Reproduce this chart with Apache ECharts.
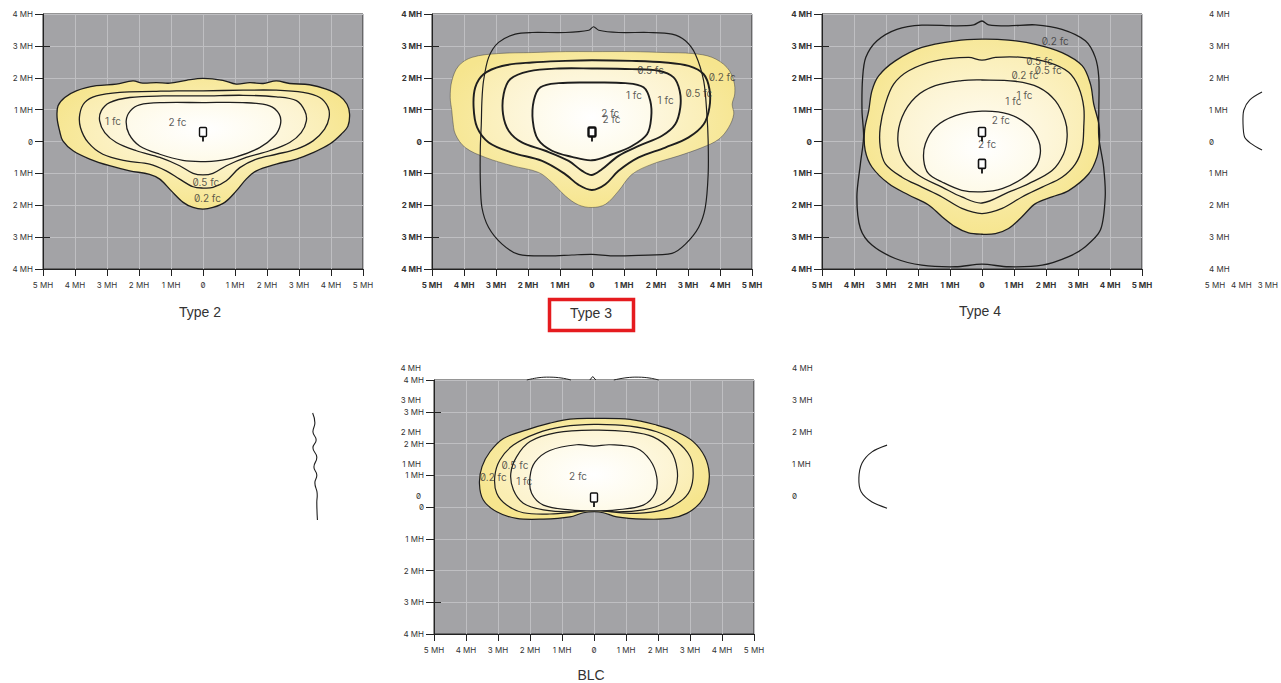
<!DOCTYPE html>
<html><head><meta charset="utf-8">
<script src="https://cdn.jsdelivr.net/npm/echarts@6/dist/echarts.min.js"></script>
<style>
html,body{margin:0;padding:0;background:#fff;}
#main{width:1281px;height:683px;}
#main text{font-feature-settings:"zero" 1 !important;font-variant-numeric:slashed-zero !important;}
</style></head><body><div id="main"></div>
<script>
// ---------- DATA (MH units) ----------
const titles = ['Type 2', 'Type 3', 'Type 4', 'BLC'];

// Type 2
const t2_02 = [[0,1.98],[0.62,1.92],[1.04,1.80],[1.46,1.85],[1.88,1.82],[2.29,1.90],[2.71,1.82],[3.33,1.78],[3.85,1.64],[4.27,1.43],[4.50,1.17],[4.58,0.86],[4.53,0.49],[4.32,0.23],[3.96,-0.08],[3.44,-0.35],[2.92,-0.55],[2.29,-0.71],[1.67,-0.92],[1.35,-1.18],[1.04,-1.55],[0.68,-1.91],[0.31,-2.07],[0,-2.12],[-0.31,-2.07],[-0.62,-1.91],[-0.99,-1.55],[-1.35,-1.18],[-1.67,-1.03],[-2.29,-0.92],[-2.92,-0.76],[-3.54,-0.55],[-4.06,-0.29],[-4.38,0.02],[-4.48,0.33],[-4.56,0.75],[-4.53,1.12],[-4.32,1.38],[-3.96,1.59],[-3.33,1.75],[-2.71,1.80],[-2.19,1.90],[-1.88,1.83],[-1.46,1.85],[-1.04,1.83],[-0.52,1.92]];
const t2_05 = [[0,1.59],[1.25,1.61],[2.29,1.61],[3.13,1.54],[3.65,1.38],[3.91,1.07],[3.94,0.75],[3.80,0.39],[3.44,0.02],[2.92,-0.24],[2.29,-0.40],[1.67,-0.55],[1.15,-0.82],[0.73,-1.23],[0.31,-1.44],[0,-1.46],[-0.31,-1.42],[-0.73,-1.18],[-1.15,-0.92],[-1.67,-0.71],[-2.40,-0.61],[-3.13,-0.40],[-3.59,-0.03],[-3.83,0.44],[-3.85,0.86],[-3.70,1.22],[-3.33,1.43],[-2.60,1.54],[-1.56,1.57],[-0.83,1.59]];
const t2_1 = [[0,1.43],[1.25,1.45],[2.29,1.40],[2.92,1.28],[3.18,0.96],[3.23,0.65],[3.07,0.28],[2.71,-0.03],[2.08,-0.29],[1.35,-0.50],[0.73,-0.76],[0.31,-1.00],[0,-1.05],[-0.31,-1.00],[-0.73,-0.76],[-1.35,-0.50],[-2.08,-0.29],[-2.71,-0.03],[-3.07,0.28],[-3.23,0.65],[-3.18,0.96],[-2.92,1.22],[-2.29,1.38],[-1.25,1.43]];
const t2_2 = [[0,1.22],[1.25,1.22],[2.08,1.12],[2.38,0.86],[2.42,0.54],[2.24,0.18],[1.77,-0.19],[1.04,-0.48],[0.42,-0.61],[0,-0.63],[-0.63,-0.59],[-1.35,-0.40],[-1.98,-0.14],[-2.31,0.23],[-2.40,0.65],[-2.27,0.96],[-1.98,1.15],[-1.25,1.22]];
const t2_labels = [[-2.81,0.65,'1 fc'],[-0.80,0.60,'2 fc'],[0.09,-1.27,'0.5 fc'],[0.14,-1.76,'0.2 fc']];
const t2_icons = [[0,0]];

// Type 3
const t3_02 = [[0,2.82],[1.25,2.82],[2.29,2.79],[3.13,2.76],[3.75,2.64],[4.22,2.32],[4.43,1.90],[4.46,1.49],[4.38,1.17],[4.43,0.86],[4.27,0.44],[3.96,0.07],[3.44,-0.19],[2.71,-0.45],[1.88,-0.71],[1.25,-1.03],[0.83,-1.55],[0.42,-1.97],[0,-2.07],[-0.42,-1.99],[-0.83,-1.71],[-1.25,-1.29],[-1.67,-0.97],[-2.50,-0.76],[-3.33,-0.50],[-3.96,-0.19],[-4.27,0.23],[-4.35,0.65],[-4.38,0.96],[-4.43,1.38],[-4.38,1.90],[-4.17,2.37],[-3.75,2.64],[-2.92,2.76],[-1.88,2.79],[-0.83,2.82]];
const t3_05 = [[0,2.55],[1.25,2.53],[2.29,2.48],[3.02,2.37],[3.49,2.11],[3.67,1.64],[3.67,1.07],[3.49,0.54],[3.02,0.13],[2.29,-0.19],[1.46,-0.50],[0.83,-0.92],[0.42,-1.34],[0,-1.52],[-0.42,-1.36],[-0.83,-1.03],[-1.56,-0.61],[-2.50,-0.35],[-3.23,-0.03],[-3.59,0.44],[-3.70,1.07],[-3.65,1.69],[-3.39,2.11],[-2.81,2.37],[-1.88,2.48],[-0.83,2.53]];
const t3_1 = [[0,2.29],[1.25,2.27],[2.08,2.22],[2.55,2.01],[2.74,1.59],[2.76,1.07],[2.60,0.54],[2.19,0.18],[1.46,-0.14],[0.83,-0.45],[0.31,-0.87],[0,-1.05],[-0.31,-0.92],[-0.73,-0.61],[-1.46,-0.29],[-2.19,-0.03],[-2.60,0.33],[-2.78,0.86],[-2.76,1.49],[-2.55,1.96],[-1.98,2.20],[-1.04,2.29]];
const t3_2 = [[0,1.85],[1.04,1.83],[1.61,1.70],[1.82,1.28],[1.85,0.75],[1.72,0.23],[1.25,-0.14],[0.63,-0.40],[0,-0.59],[-0.63,-0.48],[-1.25,-0.29],[-1.69,0.07],[-1.85,0.65],[-1.82,1.28],[-1.61,1.70],[-1.04,1.83]];
const t3_outline = [[0.05,3.60],[0.21,3.49],[0.83,3.42],[1.77,3.42],[2.50,3.37],[2.92,3.16],[3.23,2.74],[3.49,1.90],[3.59,0.86],[3.63,0.02],[3.63,-1.03],[3.54,-2.07],[3.33,-2.70],[2.92,-3.22],[2.50,-3.51],[1.46,-3.57],[0.63,-3.59],[0,-3.54],[-0.63,-3.56],[-1.35,-3.59],[-2.29,-3.54],[-2.81,-3.22],[-3.23,-2.70],[-3.44,-2.07],[-3.49,-1.23],[-3.49,-0.19],[-3.46,0.54],[-3.44,1.28],[-3.39,1.90],[-3.23,2.64],[-2.92,3.11],[-2.40,3.37],[-1.88,3.42],[-0.83,3.42],[-0.10,3.49]];
const t3_labels = [[1.83,2.25,'0.5 fc'],[4.07,2.03,'0.2 fc'],[1.31,1.46,'1 fc'],[2.30,1.31,'1 fc'],[3.34,1.52,'0.5 fc'],[0.57,0.90,'2 fc'],[0.61,0.72,'2 fc']];
const t3_icons = [[0,0]];

// Type 4
const t4_02 = [[0,3.21],[0.83,3.18],[1.67,3.05],[2.50,2.79],[3.13,2.38],[3.39,1.80],[3.49,1.18],[3.65,0.55],[3.67,0.03],[3.59,-0.49],[3.33,-1.02],[2.71,-1.54],[2.19,-1.74],[1.67,-1.95],[1.25,-2.36],[0.83,-2.73],[0.42,-2.89],[0,-2.91],[-0.42,-2.87],[-0.83,-2.68],[-1.25,-2.36],[-1.67,-1.99],[-2.29,-1.68],[-2.92,-1.32],[-3.44,-0.80],[-3.65,-0.28],[-3.67,0.34],[-3.54,0.97],[-3.44,1.59],[-3.23,2.06],[-2.71,2.53],[-1.88,2.95],[-0.83,3.16]];
const t4_05 = [[0,2.55],[0.42,2.64],[1.25,2.64],[2.08,2.48],[2.71,2.17],[3.02,1.70],[3.18,1.07],[3.18,0.45],[3.13,-0.18],[2.92,-0.70],[2.50,-1.12],[1.88,-1.43],[1.25,-1.74],[0.63,-2.10],[0,-2.26],[-0.63,-2.10],[-1.25,-1.74],[-1.88,-1.43],[-2.50,-1.12],[-3.02,-0.70],[-3.18,-0.18],[-3.18,0.45],[-3.02,1.18],[-2.76,1.80],[-2.29,2.22],[-1.46,2.53],[-0.42,2.64]];
const t4_1 = [[0,1.93],[1.04,1.89],[1.77,1.70],[2.29,1.28],[2.60,0.66],[2.66,0.14],[2.55,-0.39],[2.19,-0.91],[1.46,-1.32],[0.83,-1.59],[0,-1.93],[-0.63,-1.74],[-1.25,-1.43],[-1.98,-1.06],[-2.45,-0.59],[-2.63,0.03],[-2.50,0.76],[-2.08,1.39],[-1.46,1.75],[-0.63,1.91]];
const t4_2 = [[0,0.95],[0.83,0.86],[1.46,0.50],[1.77,0.03],[1.82,-0.39],[1.67,-0.80],[1.25,-1.17],[0.63,-1.48],[0,-1.58],[-0.63,-1.53],[-1.25,-1.27],[-1.67,-1.01],[-1.82,-0.59],[-1.77,-0.07],[-1.46,0.45],[-0.83,0.81]];
const t4_outline = [[0,3.78],[0.21,3.66],[0.83,3.63],[1.67,3.66],[2.50,3.52],[3.23,3.16],[3.54,2.64],[3.65,2.01],[3.65,0.97],[3.65,0.14],[3.80,-0.80],[3.85,-1.74],[3.70,-2.78],[3.23,-3.30],[2.71,-3.61],[1.88,-3.88],[0.83,-3.93],[0,-3.85],[-0.83,-3.93],[-1.88,-3.88],[-2.71,-3.67],[-3.44,-3.25],[-3.80,-2.73],[-3.91,-1.74],[-3.80,-0.70],[-3.70,0.14],[-3.75,0.97],[-3.73,2.01],[-3.63,2.64],[-3.28,3.16],[-2.66,3.52],[-1.88,3.65],[-0.83,3.63],[-0.26,3.66]];
const t4_labels = [[2.29,3.14,'0.2 fc'],[1.80,2.53,'0.5 fc'],[2.07,2.24,'0.5 fc'],[1.34,2.09,'0.2 fc'],[1.33,1.47,'1 fc'],[0.98,1.26,'1 fc'],[0.59,0.66,'2 fc'],[0.16,-0.07,'2 fc']];
const t4_icons = [[0,0],[0,-1]];

// BLC
const blc_02 = [[0,2.79],[1.13,2.76],[1.96,2.58],[2.58,2.37],[3.10,2.06],[3.46,1.59],[3.60,1.06],[3.54,0.53],[3.31,0.12],[2.90,-0.20],[2.38,-0.36],[1.54,-0.38],[0.71,-0.31],[0.29,-0.18],[0,-0.15],[-0.33,-0.18],[-0.75,-0.31],[-1.58,-0.38],[-2.42,-0.36],[-3.04,-0.15],[-3.46,0.22],[-3.58,0.74],[-3.50,1.27],[-3.25,1.74],[-2.83,2.16],[-2.10,2.43],[-1.38,2.64],[-0.75,2.77]];
const blc_05 = [[0,2.60],[1.13,2.55],[1.96,2.37],[2.58,2.06],[3.00,1.59],[3.10,1.06],[3.00,0.53],[2.69,0.17],[2.17,-0.09],[1.33,-0.20],[0.50,-0.15],[0,-0.09],[-0.54,-0.15],[-1.38,-0.22],[-2.21,-0.18],[-2.73,0.06],[-3.04,0.43],[-3.10,0.96],[-2.94,1.48],[-2.52,1.95],[-1.79,2.32],[-0.96,2.53]];
const blc_1 = [[0,2.42],[1.13,2.37],[1.85,2.21],[2.38,1.79],[2.60,1.16],[2.53,0.54],[2.17,0.12],[1.54,-0.09],[0.71,-0.15],[0,-0.09],[-0.75,-0.15],[-1.58,-0.09],[-2.21,0.12],[-2.52,0.54],[-2.60,1.06],[-2.42,1.58],[-2.00,2.06],[-1.17,2.34]];
const blc_2 = [[0,1.92],[0.50,1.96],[1.33,1.85],[1.75,1.48],[1.96,0.95],[1.91,0.43],[1.54,0.06],[0.71,-0.09],[0,-0.12],[-0.75,-0.09],[-1.58,0.06],[-1.95,0.43],[-2.00,0.95],[-1.84,1.42],[-1.38,1.78],[-0.54,1.96]];
const blc_topArcL = [[-2.10,4.0],[-1.75,4.07],[-1.38,4.09],[-1.00,4.06],[-0.72,4.0]];
const blc_topPeak = [[-0.13,4.0],[-0.04,4.11],[0.06,4.0]];
const blc_topArcR = [[0.62,4.0],[1.00,4.07],[1.38,4.09],[1.75,4.06],[2.02,4.0]];
const blc_labels = [[-2.47,1.32,'0.5 fc'],[-3.15,0.95,'0.2 fc'],[-2.18,0.82,'1 fc'],[-0.50,0.98,'2 fc']];
const blc_icons = [[0,0]];

// fragments of neighbouring charts
const frTopRightArc = [[-3.22,1.55],[-3.69,1.30],[-3.91,0.98],[-3.94,0.58],[-3.88,0.14],[-3.66,-0.05],[-3.22,-0.27]];
const frBlcRightArc = [[-2.28,1.59],[-2.75,1.38],[-3.06,1.03],[-3.16,0.56],[-3.09,0.13],[-2.75,-0.19],[-2.28,-0.38]];
const frBlcLeftWave = [[4.77,2.96],[4.84,2.65],[4.78,2.36],[4.88,2.11],[4.78,1.86],[4.90,1.57],[4.81,1.26],[4.90,1.01],[4.84,0.76],[4.91,0.44],[4.90,0.13],[4.92,-0.41]];

// ---------- CHART ----------
const fmt = v => v === 0 ? '0' : Math.abs(v) + ' MH';
const fmtPos = v => v < 0 ? '' : fmt(v);
const LBL = '#333';
const LINE = '#1e1e1e';

const grids = [
  {left:43, top:14, width:320, height:255},
  {left:432, top:14, width:320, height:255},
  {left:822, top:14, width:320, height:255},
  {left:434, top:380, width:320, height:254},
  {left:1215, top:14, width:64, height:255},
  {left:431, top:368, width:320, height:256},
  {left:800, top:368, width:320, height:256},
  {left:0, top:380, width:320, height:254}
].map((g, i) => Object.assign(g, i < 4 ? {show:true, backgroundColor:'#a3a3a6', borderColor:'#2a2a2a', borderWidth:1} : {show:false}));

const xRange = [[-5,5],[-5,5],[-5,5],[-5,5],[-5,-3],[-5,5],[-5,5],[-5,5]];
const weights = ['normal', 'bold', 'bold', 'normal'];
const xAxes = [], yAxes = [];
for (let i = 0; i < 8; i++) {
  const main = i < 4;
  xAxes.push({
    gridIndex:i, type:'value', min:xRange[i][0], max:xRange[i][1], interval:1,
    show: main || i === 4,
    axisLine:{show:main, onZero:false, lineStyle:{color:'#222', width:1}},
    axisTick:{show:main, length:7, lineStyle:{color:'#222'}},
    axisLabel:{show:true, formatter:fmt, margin:12, fontSize:8, color:LBL, fontFamily:'Inter', fontWeight: main ? weights[i] : 'normal'},
    splitLine:{show:main, lineStyle:{color:'#bfbfc2', width:1}}
  });
  let lab = {show:true, formatter:fmt, margin:10, fontSize:8, color:LBL, fontFamily:'Inter', fontWeight: main ? weights[i] : 'normal'};
  if (i === 4) lab = Object.assign(lab, {align:'left', margin:6});
  if (i === 5) lab = Object.assign(lab, {formatter:fmtPos, margin:10});
  if (i === 6) lab = Object.assign(lab, {formatter:fmtPos, align:'left', margin:8});
  yAxes.push({
    gridIndex:i, type:'value', min:-4, max:4, interval:1, position:'left',
    show: i !== 7,
    axisLine:{show:main, onZero:false, lineStyle:{color:'#222', width:1}},
    axisTick:{show:main, length:8, lineStyle:{color:'#222'}},
    axisLabel:lab,
    splitLine:{show:main, lineStyle:{color:'#bfbfc2', width:1}}
  });
}
// longer inside ticks at ±3 MH
for (let i = 0; i < 4; i++) {
  yAxes.push({
    gridIndex:i, type:'value', min:-4, max:4, interval:1, position:'left',
    axisLine:{show:false, onZero:false}, axisLabel:{show:false}, splitLine:{show:false},
    axisTick:{show:true, inside:true, length:7, customValues:[-3, 3], lineStyle:{color:'#222'}}
  });
}

function grad(c0, c1) {
  return new echarts.graphic.RadialGradient(0.5, 0.45, 0.56, [{offset:0, color:c0}, {offset:1, color:c1}]);
}
const BAND = [
  ['#fcf4cd', '#f6e58e'],
  ['#fef9e0', '#faedb2'],
  ['#fffcf0', '#fcf3cf'],
  ['#ffffff', '#fefae8']
];

const series = [];
function poly(gi, pts, o) {
  series.push({
    type:'custom', coordinateSystem:'cartesian2d', xAxisIndex:gi, yAxisIndex:gi,
    data: pts, silent:true, clip:false, z:o.z || 2,
    renderItem: function (params, api) {
      if (params.dataIndex !== 0) return null;
      const points = pts.map(p => api.coord(p));
      return {
        type: o.open ? 'polyline' : 'polygon',
        shape: {points: points, smooth: o.smooth == null ? 0.35 : o.smooth},
        style: {fill: o.fill || 'none', stroke: o.stroke || LINE, lineWidth: o.lw || 1.3}
      };
    }
  });
}
function labels(gi, items, o) {
  series.push({
    type:'scatter', xAxisIndex:gi, yAxisIndex:gi, symbolSize:1, silent:true, z:10,
    itemStyle:{color:'rgba(0,0,0,0)'},
    data: items.map(d => ({value:[d[0], d[1]], name:d[2]})),
    label:{show:true, position:'inside', formatter:'{b}', color:(o && o.color) || '#333', fontSize:10, fontFamily:'Inter'}
  });
}
function icons(gi, pts, lw) {
  series.push({
    type:'custom', coordinateSystem:'cartesian2d', xAxisIndex:gi, yAxisIndex:gi,
    data: pts, silent:true, clip:false, z:12,
    renderItem: function (params, api) {
      const p = api.coord([api.value(0), api.value(1)]);
      return {type:'group', children:[
        {type:'rect', shape:{x:p[0]-3.5, y:p[1]-14, width:7, height:9, r:1}, style:{fill:'#fff', stroke:'#111', lineWidth:lw}},
        {type:'line', shape:{x1:p[0], y1:p[1]-5, x2:p[0], y2:p[1]}, style:{stroke:'#111', lineWidth:1.8}}
      ]};
    }
  });
}
function bands(gi, layers, lw, outerStroke) {
  layers.forEach((pts, k) => poly(gi, pts, {fill:grad(BAND[k][0], BAND[k][1]), lw: k === 0 && outerStroke ? outerStroke.lw : lw, stroke: k === 0 && outerStroke ? outerStroke.color : LINE, z:2 + k}));
}

// Type 2
bands(0, [t2_02, t2_05, t2_1, t2_2], 1.3);
labels(0, t2_labels);
icons(0, t2_icons, 1.4);
// Type 3
bands(1, [t3_02, t3_05, t3_1, t3_2], 1.9, {lw:0.8, color:'rgba(50,50,50,0.55)'});
poly(1, t3_outline, {lw:1.2, z:8, smooth:0.3});
labels(1, t3_labels);
icons(1, t3_icons, 2.4);
// Type 4
bands(2, [t4_02, t4_05, t4_1, t4_2], 1.3);
poly(2, t4_outline, {lw:1.3, z:8, smooth:0.3});
labels(2, t4_labels);
icons(2, t4_icons, 1.6);
// BLC
bands(3, [blc_02, blc_05, blc_1, blc_2], 1.2);
poly(3, blc_topArcL, {open:true, lw:1, z:8, smooth:0.4});
poly(3, blc_topPeak, {open:true, lw:1, z:8, smooth:0});
poly(3, blc_topArcR, {open:true, lw:1, z:8, smooth:0.4});
labels(3, blc_labels);
icons(3, blc_icons, 1.4);
// fragments
poly(4, frTopRightArc, {open:true, lw:1.1, smooth:0.3});
poly(6, frBlcRightArc, {open:true, lw:1.1, smooth:0.3});
poly(7, frBlcLeftWave, {open:true, lw:1.1, smooth:0.5});

const titlePos = [[200, 312], [591, 313], [980, 311], [591, 675]];
const graphics = titles.map((t, i) => ({
  type:'text', x:titlePos[i][0], y:titlePos[i][1], z:20,
  style:{text:t, textAlign:'center', textVerticalAlign:'middle', fontSize:14, fontFamily:'Liberation Sans', fill:'#333'}
}));
graphics.push({type:'rect', shape:{x:549.5, y:299.5, width:84, height:31}, z:20,
  style:{fill:'none', stroke:'#e51b1f', lineWidth:3.5}});

const chart = echarts.init(document.getElementById('main'), null, {renderer:'svg', width:1281, height:683});
chart.setOption({
  animation:false,
  backgroundColor:'#ffffff',
  grid: grids,
  xAxis: xAxes,
  yAxis: yAxes,
  series: series,
  graphic: graphics
});
</script></body></html>
